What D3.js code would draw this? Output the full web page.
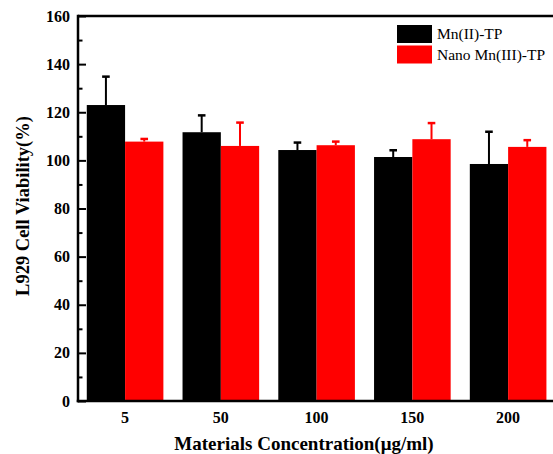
<!DOCTYPE html>
<html>
<head>
<meta charset="utf-8">
<script src="https://cdn.jsdelivr.net/npm/d3@7"></script>
<style>
  html, body { margin: 0; padding: 0; background: #fff; }
  svg { display: block; }
  text { font-family: "Liberation Serif", "Times New Roman", serif; }
</style>
</head>
<body>
<svg id="chart" width="553" height="454"></svg>
<script>
// Cell viability (%) of L929 cells vs. material concentration
const concentrations = ["5", "50", "100", "150", "200"];
const seriesNames = ["Mn(II)-TP", "Nano Mn(III)-TP"];
const mn2Values   = [123.0, 111.7, 104.3, 101.4, 98.5];
const mn2Errors   = [11.8, 7.0, 3.1, 2.8, 13.4];
const nanoValues  = [107.8, 106.0, 106.3, 108.8, 105.6];
const nanoErrors  = [1.1, 9.7, 1.5, 6.7, 2.8];
const yMajorTicks = [0, 20, 40, 60, 80, 100, 120, 140, 160];
const yMinorTicks = [10, 30, 50, 70, 90, 110, 130, 150];
const colors = ["#000000", "#ff0000"];

const series = [
  { name: seriesNames[0], values: mn2Values, errors: mn2Errors },
  { name: seriesNames[1], values: nanoValues, errors: nanoErrors }
];

const svg = d3.select("#chart");
const plotLeft = 78, plotRight = 556, plotTop = 16, plotBottom = 401;

const x0 = d3.scaleBand().domain(concentrations).range([plotLeft - 0.8, plotRight]).padding(0);
const x1 = d3.scaleBand().domain(d3.range(series.length))
  .range([0, x0.bandwidth()]).paddingInner(0).paddingOuter(0.25);
const y = d3.scaleLinear().domain([0, 160]).range([plotBottom, plotTop]);

// bars
const groups = svg.append("g").selectAll("g")
  .data(concentrations)
  .join("g")
  .attr("transform", d => `translate(${x0(d)},0)`);

groups.selectAll("rect")
  .data((c, i) => series.map((s, k) => ({ k, v: s.values[i], e: s.errors[i] })))
  .join("rect")
  .attr("x", d => x1(d.k))
  .attr("width", x1.bandwidth())
  .attr("y", d => y(d.v))
  .attr("height", d => y(0) - y(d.v))
  .attr("fill", d => colors[d.k]);

// error bars (upper half only)
const eb = groups.selectAll("g.err")
  .data((c, i) => series.map((s, k) => ({ k, v: s.values[i], e: s.errors[i] })))
  .join("g").attr("class", "err");
eb.append("line")
  .attr("x1", d => x1(d.k) + x1.bandwidth() / 2)
  .attr("x2", d => x1(d.k) + x1.bandwidth() / 2)
  .attr("y1", d => y(d.v))
  .attr("y2", d => y(d.v + d.e))
  .attr("stroke", d => colors[d.k]).attr("stroke-width", 2);
eb.append("line")
  .attr("x1", d => x1(d.k) + x1.bandwidth() / 2 - 3.8)
  .attr("x2", d => x1(d.k) + x1.bandwidth() / 2 + 3.8)
  .attr("y1", d => y(d.v + d.e))
  .attr("y2", d => y(d.v + d.e))
  .attr("stroke", d => colors[d.k]).attr("stroke-width", 2.5);

// frame: top border
svg.append("line").attr("x1", plotLeft).attr("x2", plotRight + 2)
  .attr("y1", plotTop).attr("y2", plotTop).attr("stroke", "#000").attr("stroke-width", 2.5);

// y axis with inward major and minor ticks
const yAxis = d3.axisRight(y).tickValues(yMajorTicks).tickSize(8).tickFormat("");
const yAxisG = svg.append("g").attr("transform", `translate(${plotLeft},0)`).call(yAxis);
yAxisG.select(".domain").remove();
yAxisG.selectAll(".tick line").attr("stroke-width", 2);
const yMinor = d3.axisRight(y).tickValues(yMinorTicks).tickSize(4.5).tickFormat("");
const yMinorG = svg.append("g").attr("transform", `translate(${plotLeft},0)`).call(yMinor);
yMinorG.select(".domain").remove();
yMinorG.selectAll(".tick line").attr("stroke-width", 2);

svg.append("line").attr("x1", plotLeft).attr("x2", plotLeft)
  .attr("y1", plotTop - 1.25).attr("y2", plotBottom + 1.25)
  .attr("stroke", "#000").attr("stroke-width", 2.5);

// y tick labels
svg.append("g").selectAll("text")
  .data(yMajorTicks)
  .join("text")
  .attr("x", 70)
  .attr("y", d => y(d))
  .attr("dy", "0.35em")
  .attr("text-anchor", "end")
  .attr("font-weight", "bold")
  .attr("font-size", 16)
  .text(d => d);

// x axis
const xAxis = d3.axisBottom(x0).tickSize(0).tickPadding(0);
const xAxisG = svg.append("g").attr("transform", `translate(0,${plotBottom})`).call(xAxis);
xAxisG.select(".domain").remove();
xAxisG.selectAll(".tick text")
  .attr("y", 22)
  .attr("dy", 0)
  .attr("font-family", "Liberation Serif, Times New Roman, serif")
  .attr("font-weight", "bold")
  .attr("font-size", 16)
  .attr("fill", "#000");
svg.append("line").attr("x1", plotLeft - 1.25).attr("x2", plotRight + 2)
  .attr("y1", plotBottom).attr("y2", plotBottom)
  .attr("stroke", "#000").attr("stroke-width", 2.5);

// axis titles
svg.append("text")
  .attr("x", 304).attr("y", 450)
  .attr("text-anchor", "middle")
  .attr("font-weight", "bold")
  .attr("font-size", 19)
  .text("Materials Concentration(μg/ml)");

svg.append("text")
  .attr("transform", "translate(29,206) rotate(-90)")
  .attr("text-anchor", "middle")
  .attr("font-weight", "bold")
  .attr("font-size", 18.5)
  .text("L929 Cell Viability(%)");

// legend
const legend = svg.append("g").attr("transform", "translate(397,25)");
const li = legend.selectAll("g").data(series).join("g")
  .attr("transform", (d, i) => `translate(0,${i * 20.5})`);
li.append("rect").attr("width", 35).attr("height", 18)
  .attr("fill", (d, i) => colors[i]);
li.append("text").attr("x", 40).attr("y", 14)
  .attr("font-size", 15.5)
  .text(d => d.name);
</script>
</body>
</html>
